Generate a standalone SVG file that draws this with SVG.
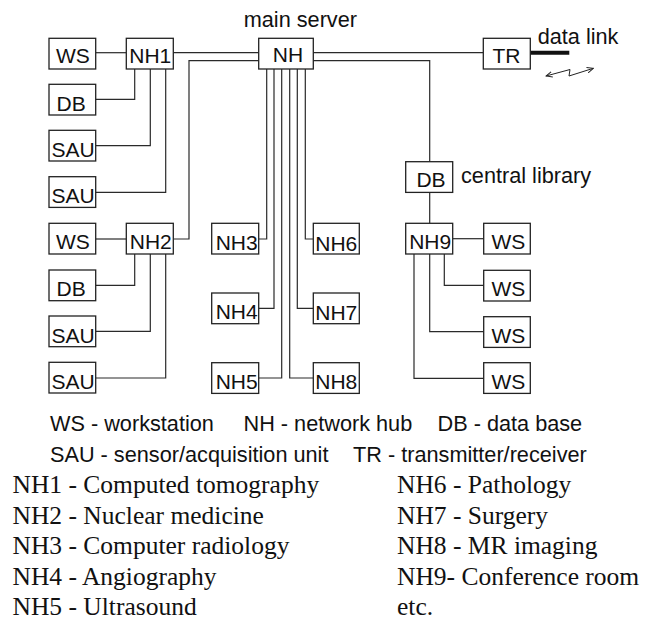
<svg xmlns="http://www.w3.org/2000/svg" width="666" height="623" viewBox="0 0 666 623">
  <style>
    .box { fill: #ffffff; stroke: #222222; stroke-width: 1.3; }
    .lbl { font-family: "Liberation Sans", Arial, sans-serif; font-size: 21px; fill: #111111; text-anchor: middle; }
    .note { font-family: "Liberation Sans", Arial, sans-serif; font-size: 21.7px; fill: #111111; }
    .dept { font-family: "Liberation Serif", "Times New Roman", serif; font-size: 25.5px; fill: #111111; }
    .wire { fill: none; stroke: #2a2a2a; stroke-width: 1.2; }
  </style>
  <defs>
    <marker id="tip" viewBox="0 0 10 10" refX="9" refY="5" markerWidth="7" markerHeight="7" orient="auto-start-reverse" markerUnits="userSpaceOnUse">
      <path d="M0,1 L9,5 L0,9" fill="none" stroke="#222222" stroke-width="1.4"/>
    </marker>
  </defs>
  <rect width="666" height="623" fill="#ffffff"/>

  <!-- connectors -->
  <g id="connectors">
    <!-- department hub NH1 -->
    <path class="wire" d="M95.7,52.7 H126.3"/>
    <path class="wire" d="M134.7,69 V99.3 H95.7"/>
    <path class="wire" d="M150.3,69 V145.7 H95.7"/>
    <path class="wire" d="M165.7,69 V192.3 H95.7"/>
    <path class="wire" d="M173.3,52.7 H258.7"/>
    <!-- department hub NH2 -->
    <path class="wire" d="M95.7,239 H126.3"/>
    <path class="wire" d="M134.7,254 V285.3 H95.7"/>
    <path class="wire" d="M150.3,254 V331.3 H95.7"/>
    <path class="wire" d="M165.7,254 V378 H95.7"/>
    <path class="wire" d="M173.3,239 H189 V60.7 H258.7"/>
    <!-- trunk lines from the main server -->
    <path class="wire" d="M266.7,69 V239 H258.7"/>
    <path class="wire" d="M274,69 V308.3 H258.7"/>
    <path class="wire" d="M281.7,69 V378 H258.7"/>
    <path class="wire" d="M289.7,69 V378 H313.3"/>
    <path class="wire" d="M297.3,69 V308.3 H313.3"/>
    <path class="wire" d="M305.3,69 V239 H313.3"/>
    <!-- right side -->
    <path class="wire" d="M313.3,52.7 H483.3"/>
    <path class="wire" d="M313.3,60.7 H429.7 V161.7"/>
    <path class="wire" d="M429.7,192.7 V223.3"/>
    <path class="wire" d="M452.7,238.7 H483.7"/>
    <path class="wire" d="M444.3,254 V285.3 H483.7"/>
    <path class="wire" d="M429.7,254 V331.7 H483.7"/>
    <path class="wire" d="M414,254 V378.3 H483.7"/>
    <!-- external data link -->
    <path d="M530.3,52.7 H569.3" fill="none" stroke="#111111" stroke-width="4"/>
    <polyline points="546,76 570,69.5 569,76 593.3,68.3" fill="none" stroke="#222222" stroke-width="1" marker-start="url(#tip)" marker-end="url(#tip)"/>
  </g>

  <!-- left column, upper group -->
  <g id="ws1"><rect class="box" x="49" y="38.3" width="46.7" height="30.7"/><text class="lbl" x="72.8" y="62.8">WS</text></g>
  <g id="nh1"><rect class="box" x="126.3" y="38.3" width="47" height="30.7"/><text class="lbl" x="150.3" y="62.8">NH1</text></g>
  <g id="db1"><rect class="box" x="49" y="84.3" width="46.7" height="30.7"/><text class="lbl" x="71.2" y="110.8">DB</text></g>
  <g id="sau1"><rect class="box" x="49" y="130.3" width="46.7" height="30.7"/><text class="lbl" x="73" y="156.7">SAU</text></g>
  <g id="sau2"><rect class="box" x="49" y="176.7" width="46.7" height="30.7"/><text class="lbl" x="73" y="203.2">SAU</text></g>

  <!-- left column, lower group -->
  <g id="ws2"><rect class="box" x="49" y="223.3" width="46.7" height="30.7"/><text class="lbl" x="72.8" y="249.3">WS</text></g>
  <g id="nh2"><rect class="box" x="126.3" y="223.3" width="47" height="30.7"/><text class="lbl" x="150.8" y="249.3">NH2</text></g>
  <g id="db2"><rect class="box" x="49" y="270" width="46.7" height="30.7"/><text class="lbl" x="71.2" y="296">DB</text></g>
  <g id="sau3"><rect class="box" x="49" y="316" width="46.7" height="30.7"/><text class="lbl" x="73" y="342.6">SAU</text></g>
  <g id="sau4"><rect class="box" x="49" y="362.3" width="46.7" height="30.7"/><text class="lbl" x="73" y="389">SAU</text></g>

  <!-- main server -->
  <g id="nh">
    <rect class="box" x="258.7" y="38.3" width="54.6" height="30.7"/>
    <text class="lbl" x="288" y="61.5">NH</text>
    <text class="note" x="243.7" y="27.3">main server</text>
  </g>

  <!-- department hubs on the trunk -->
  <g id="nh3"><rect class="box" x="211.7" y="223.3" width="47" height="30.7"/><text class="lbl" x="236.7" y="249.8">NH3</text></g>
  <g id="nh4"><rect class="box" x="211.7" y="293" width="47" height="30.7"/><text class="lbl" x="236.7" y="319.3">NH4</text></g>
  <g id="nh5"><rect class="box" x="211.7" y="362.7" width="47" height="30.7"/><text class="lbl" x="236.7" y="389.2">NH5</text></g>
  <g id="nh6"><rect class="box" x="313.3" y="223.3" width="46" height="30.7"/><text class="lbl" x="336.3" y="250.8">NH6</text></g>
  <g id="nh7"><rect class="box" x="313.3" y="293" width="46" height="30.7"/><text class="lbl" x="336.3" y="319.8">NH7</text></g>
  <g id="nh8"><rect class="box" x="313.3" y="362.7" width="46" height="30.7"/><text class="lbl" x="336.3" y="389.2">NH8</text></g>

  <!-- transmitter / receiver -->
  <g id="tr">
    <rect class="box" x="483.3" y="38.3" width="47" height="30.7"/>
    <text class="lbl" x="506.5" y="63">TR</text>
    <text class="note" x="537.7" y="44.3">data link</text>
  </g>

  <!-- central library -->
  <g id="db-central">
    <rect class="box" x="405.7" y="161.7" width="47" height="30.7"/>
    <text class="lbl" x="431" y="186.7">DB</text>
    <text class="note" x="461" y="183.3">central library</text>
  </g>

  <!-- conference room -->
  <g id="nh9"><rect class="box" x="405.7" y="223.3" width="47" height="30.7"/><text class="lbl" x="430.2" y="249.3">NH9</text></g>
  <g id="ws3"><rect class="box" x="483.7" y="223.3" width="46.6" height="30.7"/><text class="lbl" x="508.3" y="249.3">WS</text></g>
  <g id="ws4"><rect class="box" x="483.7" y="270.3" width="46.6" height="30.7"/><text class="lbl" x="508.3" y="295.8">WS</text></g>
  <g id="ws5"><rect class="box" x="483.7" y="316.7" width="46.6" height="30.7"/><text class="lbl" x="508.3" y="342.5">WS</text></g>
  <g id="ws6"><rect class="box" x="483.7" y="362.7" width="46.6" height="30.7"/><text class="lbl" x="508.3" y="389">WS</text></g>

  <!-- abbreviations -->
  <g id="key">
    <text class="note" x="50" y="430.5">WS - workstation</text>
    <text class="note" x="243.5" y="430.5">NH - network hub</text>
    <text class="note" x="437.5" y="430.5">DB - data base</text>
    <text class="note" x="50" y="461.5">SAU - sensor/acquisition unit</text>
    <text class="note" x="353" y="461.5">TR - transmitter/receiver</text>
  </g>

  <!-- departments -->
  <g id="departments">
    <text class="dept" x="12.5" y="493">NH1 - Computed tomography</text>
    <text class="dept" x="12.5" y="523.5">NH2 - Nuclear medicine</text>
    <text class="dept" x="12.5" y="554">NH3 - Computer radiology</text>
    <text class="dept" x="12.5" y="584.5">NH4 - Angiography</text>
    <text class="dept" x="12.5" y="615">NH5 - Ultrasound</text>
    <text class="dept" x="397" y="493">NH6 - Pathology</text>
    <text class="dept" x="397" y="523.5">NH7 - Surgery</text>
    <text class="dept" x="397" y="554">NH8 - MR imaging</text>
    <text class="dept" x="397" y="584.5">NH9- Conference room</text>
    <text class="dept" x="397" y="615">etc.</text>
  </g>
</svg>
